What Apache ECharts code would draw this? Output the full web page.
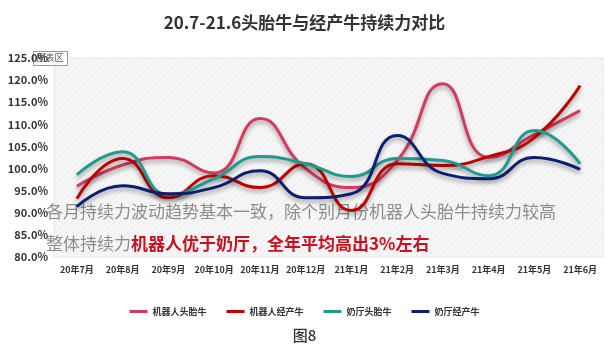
<!DOCTYPE html>
<html>
<head>
<meta charset="utf-8">
<script src="https://cdn.jsdelivr.net/npm/echarts@6/dist/echarts.min.js"></script>
<style>
  html, body { margin: 0; padding: 0; background: #fff; }
  #chart { width: 609px; height: 353px; }
</style>
</head>
<body>
<div id="chart"></div>
<script>
const months = ['20年7月', '20年8月', '20年9月', '20年10月', '20年11月', '20年12月',
  '21年1月', '21年2月', '21年3月', '21年4月', '21年5月', '21年6月']
const robotHeifer = [96.0, 100.8, 102.5, 99.0, 111.3, 100.0, 95.7, 101.8, 119.2, 102.5, 107.7, 113.1]
const robotMulti = [93.2, 102.3, 93.4, 98.4, 95.7, 101.1, 90.5, 101.1, 100.7, 102.7, 107.0, 118.8]
const parlorHeifer = [98.6, 103.8, 94.1, 97.7, 102.7, 101.1, 98.2, 102.3, 101.8, 98.4, 108.6, 101.1]
const parlorMulti = [91.4, 96.1, 94.3, 95.7, 99.5, 93.4, 94.3, 107.5, 98.9, 97.7, 102.5, 99.8]
const yTicks = { min: 80, max: 125, step: 5 }

const font = '"Noto Sans CJK SC", "Noto Sans", sans-serif'

// 斜线底纹
function hatch() {
  const c = document.createElement('canvas')
  c.width = 6
  c.height = 6
  const g = c.getContext('2d')
  g.fillStyle = '#f6f6f6'
  g.fillRect(0, 0, 6, 6)
  g.strokeStyle = '#ececec'
  g.lineWidth = 1
  g.beginPath()
  g.moveTo(0, 6)
  g.lineTo(6, 0)
  g.stroke()
  return c
}

function line(name, data, color) {
  return {
    name,
    type: 'line',
    data,
    smooth: 0.5,
    symbol: 'none',
    lineStyle: {
      color,
      width: 3,
      shadowColor: 'rgba(0,0,0,0.35)',
      shadowBlur: 4,
      shadowOffsetY: 3
    },
    itemStyle: { color }
  }
}

const chart = echarts.init(document.getElementById('chart'), null, { renderer: 'canvas' })

chart.setOption({
  animation: false,
  textStyle: { fontFamily: font },
  title: {
    text: '20.7-21.6头胎牛与经产牛持续力对比',
    left: 'center',
    top: 9,
    textStyle: { fontSize: 17, fontWeight: 'bold', color: '#333', fontFamily: font }
  },
  grid: {
    left: 54,
    right: 6,
    top: 58,
    bottom: 96,
    show: true,
    backgroundColor: { image: hatch(), repeat: 'repeat' },
    borderColor: '#e6e6e6',
    borderWidth: 1
  },
  legend: {
    bottom: 32,
    left: 'center',
    icon: 'rect',
    itemWidth: 18,
    itemHeight: 3,
    itemGap: 20,
    textStyle: { fontSize: 9, color: '#333', fontWeight: 'bold', fontFamily: font }
  },
  xAxis: {
    type: 'category',
    data: months,
    axisLine: { show: false },
    axisTick: { show: false },
    axisLabel: { color: '#333', fontSize: 9, fontWeight: 'bold', margin: 8, interval: 0 }
  },
  yAxis: {
    type: 'value',
    min: yTicks.min,
    max: yTicks.max,
    interval: yTicks.step,
    axisLine: { show: false },
    axisTick: { show: false },
    splitLine: { show: false },
    axisLabel: {
      color: '#333',
      fontSize: 11,
      fontWeight: 'bold',
      margin: 6,
      formatter: v => v.toFixed(1) + '%'
    }
  },
  series: [
    line('机器人头胎牛', robotHeifer, '#d23a5e'),
    line('机器人经产牛', robotMulti, '#c00000'),
    line('奶厅头胎牛', parlorHeifer, '#1e9a8e'),
    line('奶厅经产牛', parlorMulti, '#0b1f6e')
  ],
  graphic: [
    {
      type: 'group',
      left: 33,
      top: 51,
      children: [
        {
          type: 'rect',
          shape: { width: 34, height: 14 },
          style: { fill: '#fff', stroke: '#999', lineWidth: 1 }
        },
        {
          type: 'text',
          x: 3,
          y: 2,
          style: { text: '图表区', fontSize: 9, fill: '#555', fontFamily: font }
        }
      ]
    },
    {
      type: 'text',
      left: 46,
      top: 203,
      style: {
        text: '各月持续力波动趋势基本一致，除个别月份机器人头胎牛持续力较高',
        fontSize: 17,
        fill: '#8c8c8c',
        fontFamily: font
      }
    },
    {
      type: 'text',
      left: 46,
      top: 235,
      style: {
        text: '{g|整体持续力}{r|机器人优于奶厅，全年平均高出3%左右}',
        fontFamily: font,
        rich: {
          g: { fontSize: 17, fill: '#8c8c8c', fontFamily: font },
          r: { fontSize: 17, fill: '#c8101e', fontWeight: 'bold', fontFamily: font }
        }
      }
    },
    {
      type: 'text',
      left: 'center',
      top: 328,
      style: { text: '图8', fontSize: 15, fill: '#333', fontWeight: 500, fontFamily: font }
    }
  ]
})
</script>
</body>
</html>
